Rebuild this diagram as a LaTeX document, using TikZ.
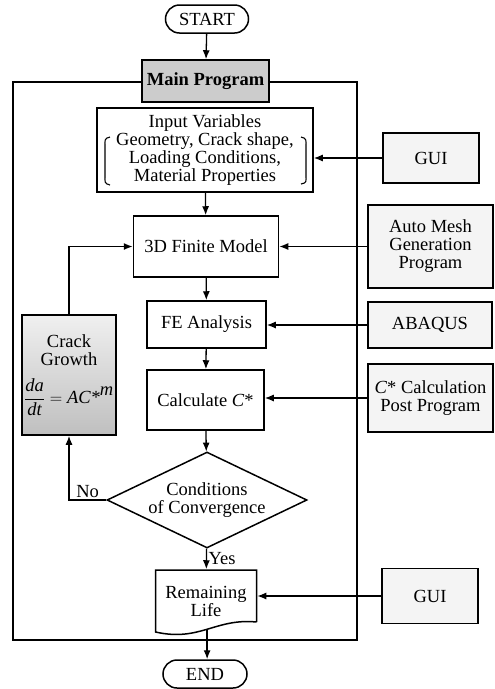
\documentclass[tikz,border=0pt]{standalone}
\usepackage{fontspec}
\setmainfont{Liberation Serif}
\usetikzlibrary{shapes.geometric,arrows.meta}
\tikzset{
  base/.style={font=\fontsize{18.5}{18}\selectfont, align=center, inner sep=0pt, line width=1.5pt},
  box/.style={base, draw, rectangle},
  terminal/.style={base, draw, rounded corners=14pt},
  extbox/.style={box, fill=gray!9},
  flow/.style={line width=1.3pt, -{Latex[length=9pt,width=7pt]}},
  lbl/.style={font=\fontsize{18.5}{18}\selectfont, inner sep=1.5pt},
}
\begin{document}
\begin{tikzpicture}[x=1pt,y=-1pt]
\useasboundingbox (0,0) rectangle (495,689);

% frame enclosing the main program
\draw[line width=1.4pt] (13,82) rectangle (357,640);

% terminals
\node[terminal, minimum width=83, minimum height=28] (start) at (207,19) {START};
\node[terminal, minimum width=84, minimum height=28] (end) at (205,674) {END};

% main program header
\node[box, fill=gray!40, minimum width=127, minimum height=42] (main) at (205.5,81) {\bfseries Main Program};

% main flow
\node[box, fill=white, minimum width=216, minimum height=84] (input) at (205,150)
  {Input Variables\\Geometry, Crack shape,\\Loading Conditions,\\Material Properties};
\draw[line width=1.1pt] (110,137) .. controls (104,138) and (105,141) .. (105,146) -- (105,176)
  .. controls (105,181) and (104,184) .. (110,185);
\draw[line width=1.1pt] (301,137) .. controls (307,138) and (306,141) .. (306,146) -- (306,176)
  .. controls (306,181) and (307,183) .. (301,184);

\node[box, minimum width=145, minimum height=61] (fem) at (206,246.5) {3D Finite Model};
\node[box, minimum width=119, minimum height=47] (fe) at (206.5,324.5) {FE Analysis};
\node[box, minimum width=117, minimum height=60] (calc) at (205.5,400) {Calculate \textit{C}*};
\node[base, draw, diamond, aspect=2.08, minimum width=200, minimum height=96] (conv) at (207,500)
  {Conditions\\of Convergence};

% remaining life (document shape)
\node[base, minimum width=101, minimum height=62] (rem) at (206,601) {Remaining\\Life};
\draw[line width=1.5pt] (256.5,622) -- (256.5,570) -- (155.5,570) -- (155.5,632)
  .. controls (200,642) and (215,618) .. coordinate[pos=0.5] (remfoot) (256.5,622);

% crack growth loop
\node[box, minimum width=94, minimum height=120, top color=gray!12, bottom color=gray!50] (crack) at (69,375)
  {Crack\\Growth\\[12pt]$\displaystyle\frac{\textit{da}}{\textit{dt}}=\textit{AC*}^{\textit{m}}$};

% external programs
\node[extbox, minimum width=96, minimum height=50] (gui1) at (431,158) {GUI};
\node[extbox, minimum width=125, minimum height=83] (mesh) at (430.5,246.5) {Auto Mesh\\Generation\\Program};
\node[extbox, minimum width=124, minimum height=46] (abaqus) at (430,325) {ABAQUS};
\node[extbox, minimum width=125, minimum height=68] (cstar) at (430.5,398) {\textit{C}* Calculation\\Post Program};
\node[extbox, minimum width=96, minimum height=55] (gui2) at (430,596) {GUI};

% connectors
\draw[flow] (start) -- (main);
\draw[flow] (input) -- (fem);
\draw[flow] (fem) -- (fe);
\draw[flow] (fe) -- (calc);
\draw[flow] (calc) -- (conv);
\draw[flow] (conv) -- node[lbl, right] {Yes} (rem);
\draw[flow] (remfoot) -- (remfoot |- end.north);
\draw[flow] (conv.west) -| node[lbl, pos=0.25, above] {No} (crack.south);
\draw[flow] (crack.north) |- (fem.west);

\draw[flow] (gui1.west) -- (gui1.west -| input.east);
\draw[flow] (mesh.west) -- (mesh.west -| fem.east);
\draw[flow] (abaqus.west) -- (abaqus.west -| fe.east);
\draw[flow] (cstar.west) -- (cstar.west -| calc.east);
\draw[flow] (gui2.west) -- (gui2.west -| rem.east);
\end{tikzpicture}
\end{document}
